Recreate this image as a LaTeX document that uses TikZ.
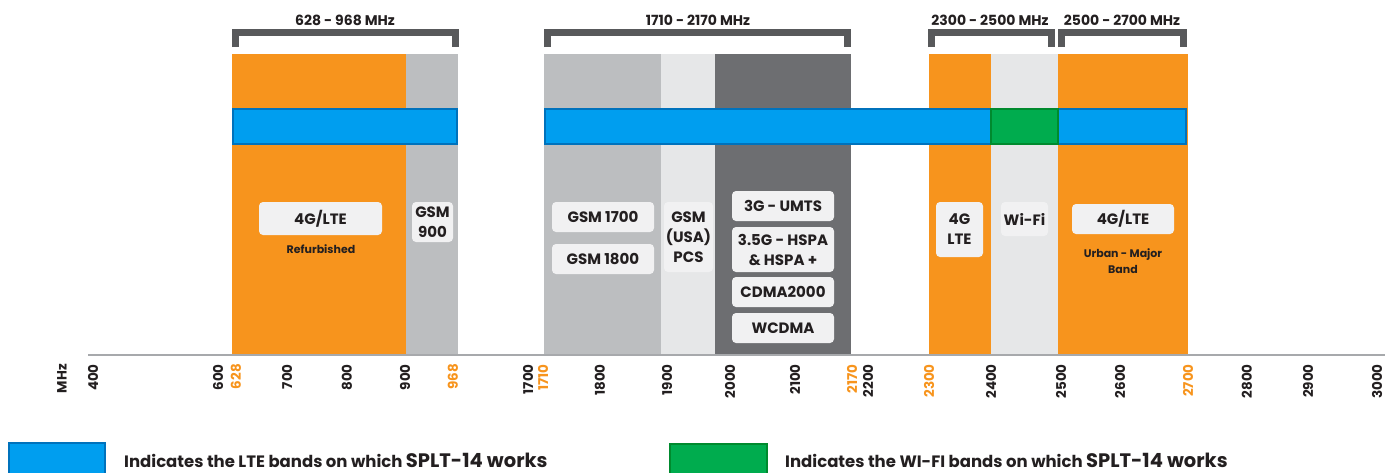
\documentclass[tikz,border=0pt]{standalone}
\usepackage{fontspec}
\setmainfont{Poppins}
\definecolor{bandorange}{HTML}{F7941D}
\definecolor{bandgrey}{HTML}{BCBEC0}
\definecolor{bandpale}{HTML}{E6E7E8}
\definecolor{banddark}{HTML}{6D6E71}
\definecolor{ltefill}{HTML}{009EEF}
\definecolor{lteedge}{HTML}{0072BC}
\definecolor{wififill}{HTML}{00AC4E}
\definecolor{wifiedge}{HTML}{008A2E}
\definecolor{tagfill}{HTML}{F1F1F2}
\definecolor{bracketgrey}{HTML}{58595B}
\definecolor{axisgrey}{HTML}{A7A9AC}
\definecolor{textdark}{HTML}{231F20}

\begin{document}
\begin{tikzpicture}[x=1pt,y=-1pt,
  bandtag/.style={fill=tagfill,rounded corners=4pt,align=center,inner sep=0pt,
    text=textdark,font=\fontsize{15}{20}\selectfont\bfseries},
  notelbl/.style={align=center,inner sep=0pt,text=textdark,
    font=\fontsize{11}{16}\selectfont\bfseries},
  rangelbl/.style={inner sep=0pt,text=textdark,font=\fontsize{14}{16}\selectfont\bfseries},
  ticklbl/.style={rotate=90,anchor=east,inner sep=0pt,font=\fontsize{13.5}{15}\selectfont\bfseries},
  bracketline/.style={draw=bracketgrey,line width=7pt,miter limit=10},
  lteband/.style={fill=ltefill,draw=lteedge,line width=1.8pt},
  wifiband/.style={fill=wififill,draw=wifiedge,line width=1.8pt}]
\useasboundingbox (0,0) rectangle (1385,472);
% bands
\fill[bandorange] (232,54) rectangle (406,355);
\fill[bandgrey] (406,54) rectangle (458,355);
\fill[bandgrey] (544,54) rectangle (661,355);
\fill[bandpale] (661,54) rectangle (715,355);
\fill[banddark] (715,54) rectangle (851,355);
\fill[bandorange] (929,54) rectangle (991,355);
\fill[bandpale] (991,54) rectangle (1058,355);
\fill[bandorange] (1058,54) rectangle (1188,355);
\draw[lteband] (233,109) rectangle (457,144);
\draw[lteband] (545,109) rectangle (991,144);
\draw[lteband] (1058,109) rectangle (1186,144);
\draw[wifiband] (991,109) rectangle (1058,144);
% brackets
\draw[bracketline] (235.5,47) -- (235.5,32) -- (455.5,32) -- (455.5,47);
\draw[bracketline] (547.5,47) -- (547.5,32) -- (847.5,32) -- (847.5,47);
\draw[bracketline] (931.5,47) -- (931.5,32) -- (1051.5,32) -- (1051.5,47);
\draw[bracketline] (1061.5,47) -- (1061.5,32) -- (1183.5,32) -- (1183.5,47);
\node[rangelbl] (r1) at (345,20) {628 - 968 MHz};
\node[rangelbl] (r2) at (698,20) {1710 - 2170 MHz};
\node[rangelbl] (r3) at (990,20) {2300 - 2500 MHz};
\node[rangelbl] (r4) at (1122,20) {2500 - 2700 MHz};
% tags
\node[bandtag,minimum width=123pt,minimum height=33pt] (lte1) at (320.5,218.5) {4G/LTE};
\node[notelbl] (refurb) at (321,249) {Refurbished};
\node[bandtag,minimum width=41pt,minimum height=40pt] (gsm900) at (432.5,222) {GSM\\900};
\node[bandtag,minimum width=102pt,minimum height=30pt] (gsm1700) at (603,217) {GSM 1700};
\node[bandtag,minimum width=102pt,minimum height=30pt] (gsm1800) at (603,259) {GSM 1800};
\node[bandtag,minimum width=49pt,minimum height=70pt] (pcs) at (688.5,237) {GSM\\(USA)\\PCS};
\node[bandtag,minimum width=102pt,minimum height=30pt] (umts) at (783,206) {3G - UMTS};
\node[bandtag,minimum width=102pt,minimum height=45pt] (hspa) at (783,249.5) {3.5G - HSPA\\\& HSPA +};
\node[bandtag,minimum width=102pt,minimum height=30pt] (cdma) at (783,292) {CDMA2000};
\node[bandtag,minimum width=102pt,minimum height=30pt] (wcdma) at (783,328) {WCDMA};
\node[bandtag,minimum width=47pt,minimum height=55pt] (lte2) at (959.5,229.5) {4G\\LTE};
\node[bandtag,minimum width=47pt,minimum height=34pt] (wifi) at (1024.5,219) {Wi-Fi};
\node[bandtag,minimum width=102pt,minimum height=30pt] (lte3) at (1123,219) {4G/LTE};
\node[notelbl] (urban) at (1123,261) {Urban - Major\\Band};
% axis
\draw[axisgrey,line width=1.5pt] (88,355) -- (1385,355);
\node[ticklbl,text=textdark] (unit) at (62,364) {MHz};
\foreach \f/\x in {400/93,600/218,700/287,800/347,900/405,1700/528,1800/600,1900/667,
  2000/730,2100/795,2200/868,2400/991,2500/1061,2600/1120,2800/1247,2900/1308,3000/1377}
  \node[ticklbl,text=textdark] (t\f) at (\x,364) {\f};
\foreach \f/\x in {628/236,968/453,1710/543,2170/852,2300/929,2700/1188}
  \node[ticklbl,text=bandorange] (t\f) at (\x,364) {\f};
% legend
\draw[lteband] (9,443) rectangle (105,476);
\draw[wifiband] (670,444) rectangle (767,476);
\node[anchor=west,inner sep=0pt,text=textdark,font=\bfseries] (ltekey) at (124,460)
  {\fontsize{16.5}{19}\selectfont Indicates the LTE bands on which {\fontsize{19.5}{19}\selectfont SPLT-14 works}};
\node[anchor=west,inner sep=0pt,text=textdark,font=\bfseries] (wifikey) at (785,460)
  {\fontsize{16.5}{19}\selectfont Indicates the WI-FI bands on which {\fontsize{19.5}{19}\selectfont SPLT-14 works}};
\end{tikzpicture}
\end{document}
